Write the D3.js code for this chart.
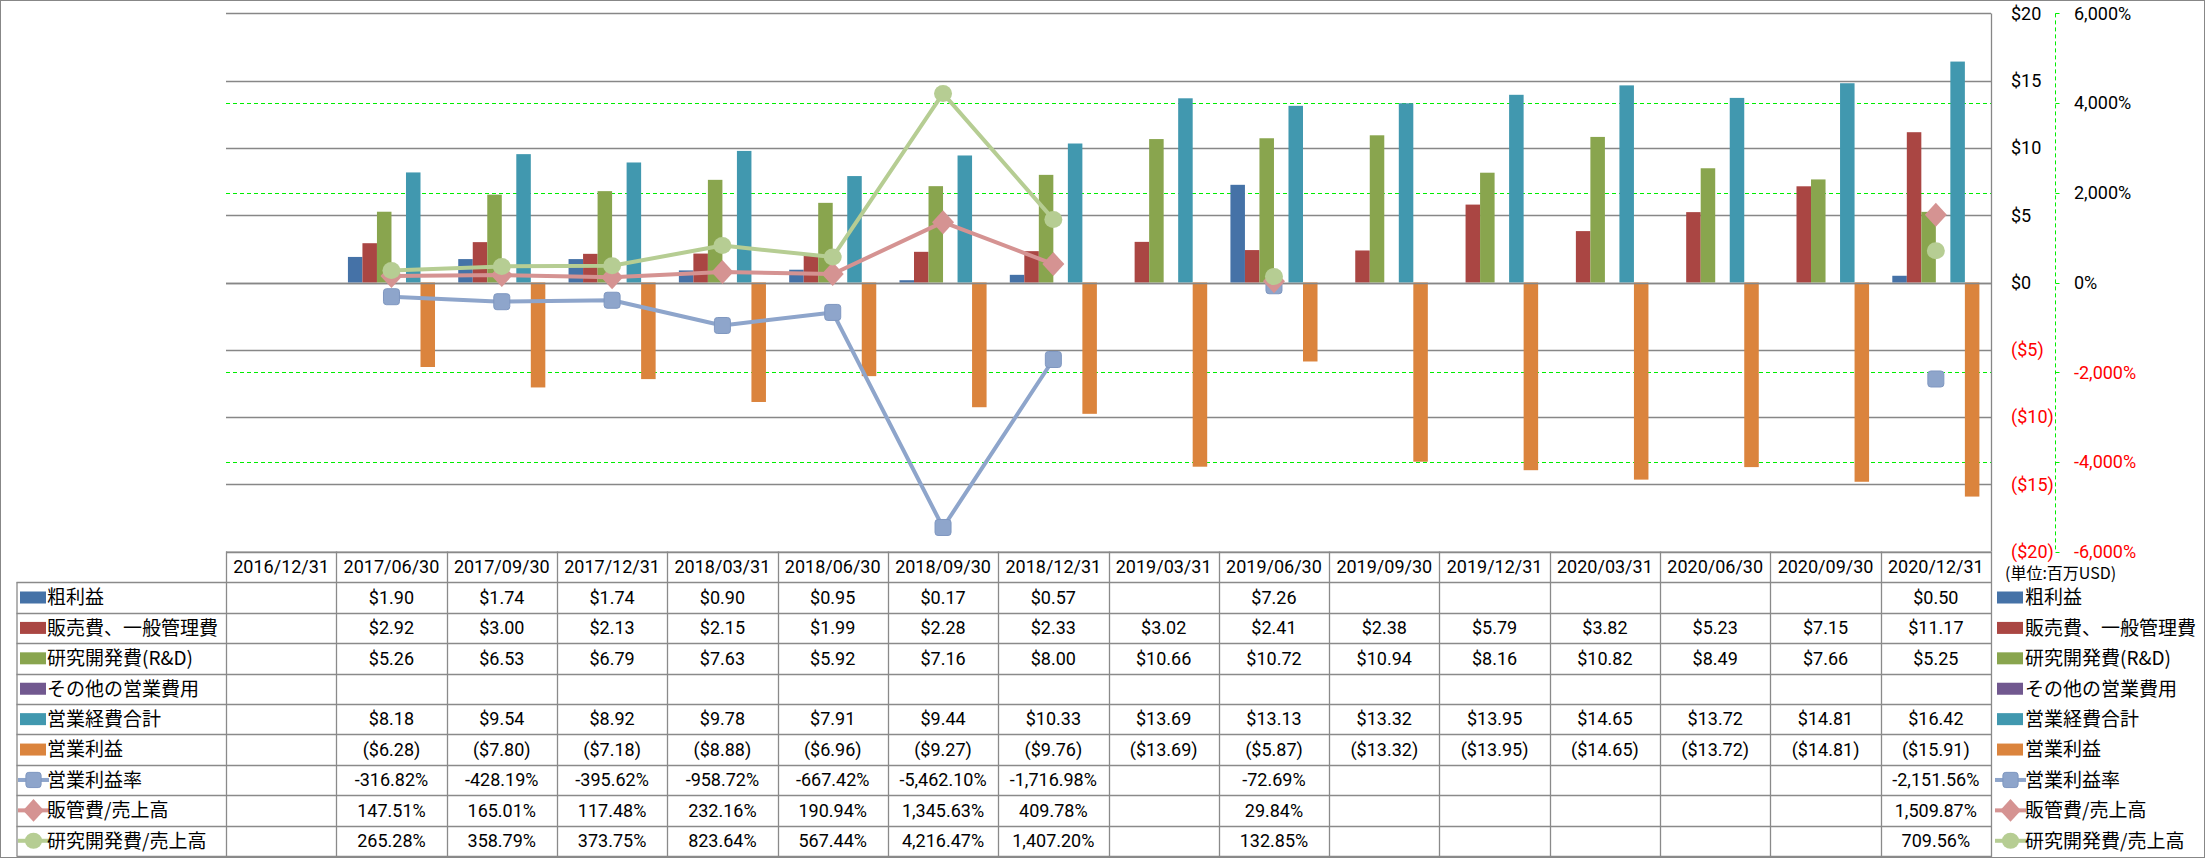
<!DOCTYPE html>
<html><head><meta charset="utf-8">
<script src="https://cdn.jsdelivr.net/npm/d3@7"></script>
<style>
body{margin:0;background:#fff;}
svg{display:block;}
</style></head>
<body>
<svg id="chart" width="2205" height="858"></svg>
<script>
const categories = ["2016/12/31","2017/06/30","2017/09/30","2017/12/31","2018/03/31","2018/06/30","2018/09/30","2018/12/31","2019/03/31","2019/06/30","2019/09/30","2019/12/31","2020/03/31","2020/06/30","2020/09/30","2020/12/31"];
const grossProfit = [null,1.90,1.74,1.74,0.90,0.95,0.17,0.57,null,7.26,null,null,null,null,null,0.50];
const sgaExpense = [null,2.92,3.00,2.13,2.15,1.99,2.28,2.33,3.02,2.41,2.38,5.79,3.82,5.23,7.15,11.17];
const rndExpense = [null,5.26,6.53,6.79,7.63,5.92,7.16,8.00,10.66,10.72,10.94,8.16,10.82,8.49,7.66,5.25];
const otherExpense = [null,null,null,null,null,null,null,null,null,null,null,null,null,null,null,null];
const totalOpex = [null,8.18,9.54,8.92,9.78,7.91,9.44,10.33,13.69,13.13,13.32,13.95,14.65,13.72,14.81,16.42];
const operatingIncome = [null,-6.28,-7.80,-7.18,-8.88,-6.96,-9.27,-9.76,-13.69,-5.87,-13.32,-13.95,-14.65,-13.72,-14.81,-15.91];
const operatingMargin = [null,-316.82,-428.19,-395.62,-958.72,-667.42,-5462.10,-1716.98,null,-72.69,null,null,null,null,null,-2151.56];
const sgaRatio = [null,147.51,165.01,117.48,232.16,190.94,1345.63,409.78,null,29.84,null,null,null,null,null,1509.87];
const rndRatio = [null,265.28,358.79,373.75,823.64,567.44,4216.47,1407.20,null,132.85,null,null,null,null,null,709.56];
const leftTicks = [-20,-15,-10,-5,0,5,10,15,20];
const rightTicks = [-6000,-4000,-2000,0,2000,4000,6000];
const unitLabel = "(単位:百万USD)";

const barSeries = [
  {name:"粗利益", values:grossProfit, color:"#4572A7"},
  {name:"販売費、一般管理費", values:sgaExpense, color:"#AA4643"},
  {name:"研究開発費(R&D)", values:rndExpense, color:"#89A54E"},
  {name:"その他の営業費用", values:otherExpense, color:"#71588F"},
  {name:"営業経費合計", values:totalOpex, color:"#4198AF"},
  {name:"営業利益", values:operatingIncome, color:"#DB843D"}
];
const lineSeries = [
  {name:"営業利益率", values:operatingMargin, color:"#8EA5CB", marker:"square"},
  {name:"販管費/売上高", values:sgaRatio, color:"#D59392", marker:"diamond"},
  {name:"研究開発費/売上高", values:rndRatio, color:"#B6CD93", marker:"circle"}
];

const loc = d3.formatLocale({decimal:".", thousands:",", grouping:[3], currency:["$",""], minus:"-"});
const fmtPct2 = loc.format(",.2f");
const fmtInt = loc.format(",");

const svg = d3.select("#chart");
const NUMF = "Roboto,'Liberation Sans',sans-serif";
const NUMS = 18;
const CJKF = "'Noto Sans CJK JP','Noto Sans CJK SC',sans-serif";
const GRID = "#878787";

const plotL = 226, plotR = 1991, plotT = 13.4, plotB = 551.6;
const x = d3.scaleBand().domain(categories).range([plotL, plotR]).padding(0);
const bw = x.bandwidth();
const barW = bw / 7.6;
const x1 = d3.scaleBand().domain(barSeries.map(s=>s.name)).range([0.8*barW, bw-0.8*barW]).padding(0);
const y = d3.scaleLinear().domain([-20,20]).range([plotB, plotT]);
const y2 = d3.scaleLinear().domain([-6000,6000]).range([plotB, plotT]);

// outer frame
svg.append("rect").attr("x",0.5).attr("y",0.5).attr("width",2204).attr("height",857)
  .attr("fill","none").attr("stroke",GRID).attr("stroke-width",1);

// primary gridlines
svg.append("g").selectAll("line").data(leftTicks).join("line")
  .attr("x1",plotL).attr("x2",plotR)
  .attr("y1",d=>Math.round(y(d))+0.5).attr("y2",d=>Math.round(y(d))+0.5)
  .attr("stroke",GRID).attr("stroke-width",1.3);
// secondary gridlines (green dashed)
svg.append("g").selectAll("line").data(rightTicks.filter(d=>Math.abs(d)<6000)).join("line")
  .attr("x1",plotL).attr("x2",plotR)
  .attr("y1",d=>Math.round(y2(d))+0.5).attr("y2",d=>Math.round(y2(d))+0.5)
  .attr("stroke","#00EE00").attr("stroke-width",1).attr("stroke-dasharray","4,3");
// plot right border
svg.append("line").attr("x1",plotR+0.5).attr("x2",plotR+0.5).attr("y1",plotT).attr("y2",plotB)
  .attr("stroke",GRID).attr("stroke-width",1.3);

// bars
barSeries.forEach(s=>{
  svg.append("g").selectAll("rect")
    .data(categories.map((c,i)=>({c, v:s.values[i]})).filter(d=>d.v!=null))
    .join("rect")
    .attr("x",d=>x(d.c)+x1(s.name))
    .attr("width",x1.bandwidth())
    .attr("y",d=>y(Math.max(0,d.v)))
    .attr("height",d=>Math.abs(y(d.v)-y(0)))
    .attr("fill",s.color);
});

// redraw zero line over bars
svg.append("line").attr("x1",plotL).attr("x2",plotR)
  .attr("y1",Math.round(y(0))+0.5).attr("y2",Math.round(y(0))+0.5)
  .attr("stroke",GRID).attr("stroke-width",1.3);

// markers
function drawMarker(g, type, cx, cy, color, scale){
  scale = scale||1;
  if(type==="square"){
    const s=16*scale;
    g.append("rect").attr("x",cx-s/2).attr("y",cy-s/2).attr("width",s).attr("height",s)
      .attr("rx",3*scale).attr("fill",color).attr("stroke","#7F97C0").attr("stroke-width",1);
  } else if(type==="diamond"){
    const w=11*scale, h=12*scale;
    g.append("path").attr("d",`M${cx},${cy-h}L${cx+w},${cy}L${cx},${cy+h}L${cx-w},${cy}Z`)
      .attr("fill",color);
  } else {
    g.append("ellipse").attr("cx",cx).attr("cy",cy).attr("rx",9*scale).attr("ry",8.5*scale)
      .attr("fill",color);
  }
}

lineSeries.forEach(s=>{
  const pts = categories.map((c,i)=>({c, v:s.values[i]}));
  const line = d3.line().defined(d=>d.v!=null)
    .x(d=>x(d.c)+bw/2).y(d=>y2(d.v));
  const g = svg.append("g");
  g.append("path").datum(pts).attr("d",line).attr("fill","none")
    .attr("stroke",s.color).attr("stroke-width",4).attr("stroke-linejoin","round");
  pts.filter(d=>d.v!=null).forEach(d=>drawMarker(g, s.marker, x(d.c)+bw/2, y2(d.v), s.color));
});

// primary axis labels
svg.append("g").selectAll("text").data(leftTicks).join("text")
  .attr("x",2011).attr("y",d=>y(d)).attr("dy","0.35em")
  .attr("font-family",NUMF).attr("font-size",NUMS)
  .attr("fill",d=>d<0?"#FF0000":"#000")
  .text(d=>d<0?`($${-d})`:`$${d}`);

// secondary axis
const axX = 2055.5;
svg.append("line").attr("x1",axX).attr("x2",axX).attr("y1",plotT).attr("y2",plotB)
  .attr("stroke","#00EE00").attr("stroke-width",1).attr("stroke-dasharray","4,3");
svg.append("g").selectAll("line").data(rightTicks).join("line")
  .attr("x1",axX).attr("x2",axX+4)
  .attr("y1",d=>Math.round(y2(d))+0.5).attr("y2",d=>Math.round(y2(d))+0.5)
  .attr("stroke","#00EE00").attr("stroke-width",1);
svg.append("g").selectAll("text").data(rightTicks).join("text")
  .attr("x",2074).attr("y",d=>y2(d)).attr("dy","0.35em")
  .attr("font-family",NUMF).attr("font-size",NUMS)
  .attr("fill",d=>d<0?"#FF0000":"#000")
  .text(d=>fmtInt(d)+"%");

svg.append("text").attr("x",2005).attr("y",573).attr("dy","0.35em")
  .attr("font-family",CJKF).attr("font-size",16).attr("fill","#000").text(unitLabel);

// data table
const tblTop = plotB, hdrB = 582.3, rowH = 30.41, legL = 16.5;
const rows = [
  ...barSeries.map(s=>({name:s.name, color:s.color, type:"bar", fmt:v=>v<0?`($${(-v).toFixed(2)})`:`$${v.toFixed(2)}`, values:s.values})),
  ...lineSeries.map(s=>({name:s.name, color:s.color, type:"line", marker:s.marker, fmt:v=>fmtPct2(v)+"%", values:s.values}))
];
const tblB = hdrB + rowH*rows.length;
const tg = svg.append("g");
const TL = "#8A8A8A";
tg.append("line").attr("x1",plotL).attr("x2",plotR).attr("y1",tblTop+0.5).attr("y2",tblTop+0.5).attr("stroke",TL).attr("stroke-width",1.3);
d3.range(rows.length+1).forEach(i=>{
  const yy = Math.round(hdrB + i*rowH)+0.5;
  tg.append("line").attr("x1",legL).attr("x2",plotR).attr("y1",yy).attr("y2",yy).attr("stroke",TL).attr("stroke-width",1.3);
});
tg.append("line").attr("x1",legL+0.5).attr("x2",legL+0.5).attr("y1",hdrB).attr("y2",tblB).attr("stroke",TL).attr("stroke-width",1.3);
categories.forEach(c=>{
  const xx = Math.round(x(c))+0.5;
  tg.append("line").attr("x1",xx).attr("x2",xx).attr("y1",tblTop).attr("y2",tblB).attr("stroke",TL).attr("stroke-width",1.3);
});
tg.append("line").attr("x1",plotR+0.5).attr("x2",plotR+0.5).attr("y1",tblTop).attr("y2",858).attr("stroke",TL).attr("stroke-width",1.3);

tg.selectAll("text.hdr").data(categories).join("text").attr("class","hdr")
  .attr("x",d=>x(d)+bw/2).attr("y",(tblTop+hdrB)/2).attr("dy","0.35em")
  .attr("text-anchor","middle").attr("font-family",NUMF).attr("font-size",NUMS).attr("fill","#000")
  .text(d=>d);

function legendKey(g, r, kx, cy){
  if(r.type==="bar"){
    g.append("rect").attr("x",kx).attr("y",cy-6).attr("width",26).attr("height",12).attr("fill",r.color);
  } else {
    g.append("line").attr("x1",kx-2).attr("x2",kx+29).attr("y1",cy).attr("y2",cy)
      .attr("stroke",r.color).attr("stroke-width",4);
    drawMarker(g, r.marker, kx+13.5, cy, r.color, 0.95);
  }
}

rows.forEach((r,i)=>{
  const cy = hdrB + rowH*(i+0.5);
  legendKey(tg, r, 20, cy);
  tg.append("text").attr("x",47).attr("y",cy).attr("dy","0.36em")
    .attr("font-family",CJKF).attr("font-size",19).attr("fill","#000").text(r.name);
  legendKey(tg, r, 1997, cy);
  tg.append("text").attr("x",2025).attr("y",cy).attr("dy","0.36em")
    .attr("font-family",CJKF).attr("font-size",19).attr("fill","#000").text(r.name);
  tg.append("g").selectAll("text").data(categories.map((c,j)=>({c,v:r.values[j]})).filter(d=>d.v!=null))
    .join("text")
    .attr("x",d=>x(d.c)+bw/2).attr("y",cy).attr("dy","0.35em")
    .attr("text-anchor","middle").attr("font-family",NUMF).attr("font-size",NUMS).attr("fill","#000")
    .text(d=>r.fmt(d.v));
});
</script>
</body></html>
